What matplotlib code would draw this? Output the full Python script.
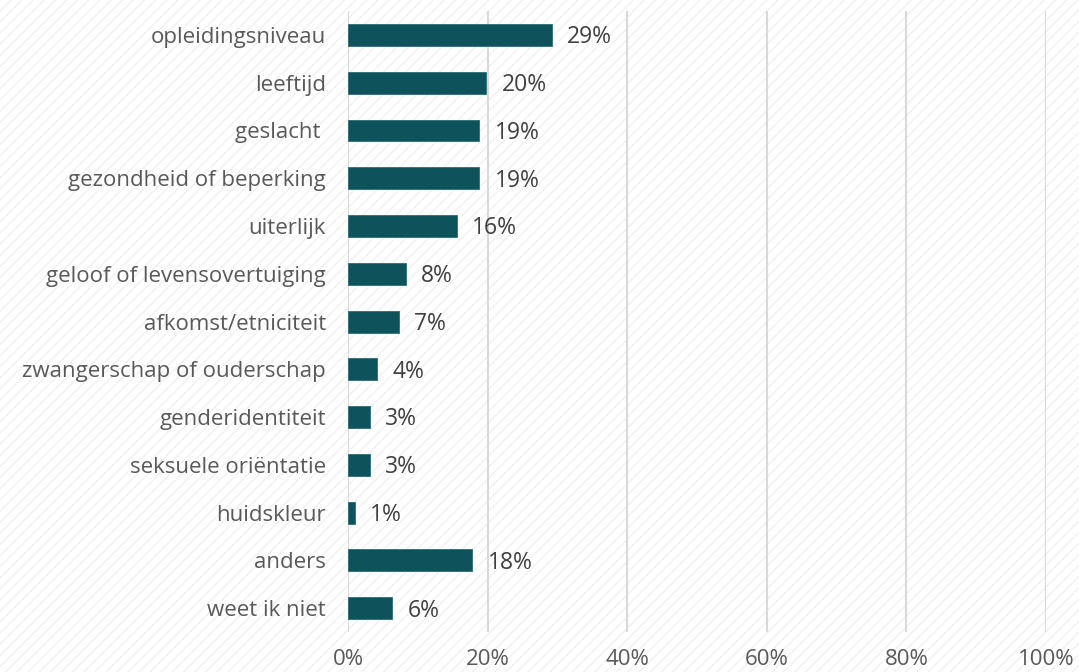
import matplotlib.pyplot as plt
import matplotlib.patches as mpatches
from matplotlib.ticker import PercentFormatter

categories = [
    "opleidingsniveau", "leeftijd", "geslacht ", "gezondheid of beperking",
    "uiterlijk", "geloof of levensovertuiging", "afkomst/etniciteit",
    "zwangerschap of ouderschap", "genderidentiteit", "seksuele oriëntatie",
    "huidskleur", "anders", "weet ik niet",
]
values = [0.292, 0.198, 0.188, 0.188, 0.156, 0.083, 0.073, 0.042, 0.031, 0.031, 0.010, 0.178, 0.063]
labels = ["29%", "20%", "19%", "19%", "16%", "8%", "7%", "4%", "3%", "3%", "1%", "18%", "6%"]

plt.rcParams["font.family"] = ["Open Sans", "DejaVu Sans"]
plt.rcParams["hatch.linewidth"] = 1.0
plt.rcParams["hatch.color"] = "#f1f1f1"

fig = plt.figure(figsize=(10.79, 6.72), dpi=100)
# faint diagonal hatch behind everything
bg = mpatches.Rectangle((0, 0), 1, 1, transform=fig.transFigure, facecolor="white",
                        edgecolor="#f1f1f1", hatch="///", linewidth=0, zorder=-10)
fig.patches.append(bg)

ax = fig.add_axes([0.3225, 0.0595, 0.6469, 0.924])
ax.patch.set_alpha(0)

y = range(len(categories))
ax.barh(y, values, height=0.46, color="#0e535b", edgecolor="#2a6e75", linewidth=0.6, zorder=3)
for i, (v, lab) in enumerate(zip(values, labels)):
    ax.text(v + 0.022, i + 0.05, lab, va="center", ha="left", fontsize=16.5, color="#404040")

ax.set_xlim(0, 1)
ax.set_ylim(len(categories) - 0.5, -0.5)
ax.set_yticks(list(y))
ax.set_yticklabels(categories)
ax.set_xticks([0, 0.2, 0.4, 0.6, 0.8, 1.0])
ax.xaxis.set_major_formatter(PercentFormatter(1.0, decimals=0))
ax.tick_params(axis="y", length=0, pad=16, labelsize=16, labelcolor="#595959")
ax.tick_params(axis="x", length=0, pad=12, labelsize=16, labelcolor="#595959")
ax.grid(axis="x", color="#d9d9d9", linewidth=1.5, zorder=0)
for s in ax.spines.values():
    s.set_visible(False)

plt.savefig("out.png", dpi=100)
